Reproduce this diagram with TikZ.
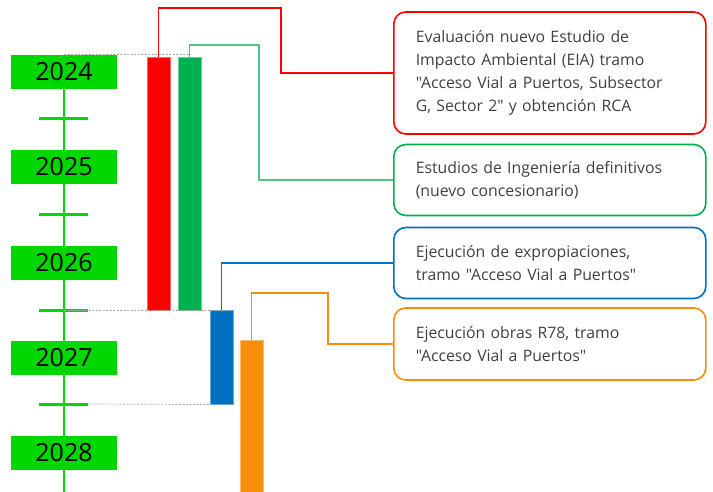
\documentclass[tikz,border=0pt]{standalone}
\usepackage{fontspec}
\setmainfont{Open Sans}[Ligatures=TeXOff]
\usepackage{xcolor}
\definecolor{YearGreen}{HTML}{00D600}
\definecolor{BarRed}{HTML}{FF0000}
\definecolor{BarGreen}{HTML}{00B050}
\definecolor{BarBlue}{HTML}{0070C0}
\definecolor{BarOrange}{HTML}{F68E0A}
\definecolor{TextGrey}{HTML}{404040}
\usetikzlibrary{positioning}

\tikzset{
  yearbox/.style={rectangle, fill=YearGreen, minimum width=106pt, minimum height=34pt, inner sep=0pt, font=\fontsize{25}{25}\selectfont},
  ganttbar/.style={rectangle, fill=#1, draw=#1!60, line width=0.6pt, inner sep=0pt, minimum width=23pt, anchor=north west},
  taskbox/.style={rectangle, rounded corners=12pt, draw=#1, line width=1.6pt, anchor=west, minimum width=312pt, text width=268pt, inner xsep=22pt, align=left, text=TextGrey, font=\fontsize{15.8}{23}\selectfont},
  link/.style={draw=#1, line width=1.2pt},
  guide/.style={draw=black!35, dashed, dash pattern=on 2pt off 1.5pt, line width=0.7pt}
}

\begin{document}
\begin{tikzpicture}[x=1pt, y=-1pt]
    \useasboundingbox (0,0) rectangle (713,492);

    % timeline
    \draw[YearGreen, line width=2.5pt] (64,72) -- (64,492);
    \foreach \yy in {119,215,310,404}
        \draw[YearGreen, line width=3pt] (39,\yy) -- (88,\yy);
    \coordinate (t3) at (64,310);
    \coordinate (t4) at (88,404);
    \node (y2024) [yearbox] at (64,72) {2024};
    \node (y2025) [yearbox] at (64,167) {2025};
    \node (y2026) [yearbox] at (64,263) {2026};
    \node (y2027) [yearbox] at (64,358) {2027};
    \node (y2028) [yearbox] at (64,453) {2028};

    % bars
    \node (rbar) [ganttbar=BarRed, minimum height=253pt] at (147,57) {};
    \node (gbar) [ganttbar=BarGreen, minimum height=253pt] at (178,57) {};
    \node (bbar) [ganttbar=BarBlue, minimum height=94pt] at (210,310) {};
    \node (obar) [ganttbar=BarOrange, minimum height=152pt] at (240,340) {};

    % guides
    \draw[guide] (y2024.north) -- (y2024.north -| gbar.north);
    \draw[guide] (t3) -- (bbar.north);
    \draw[guide] (t4) -- (bbar.south west);

    % tasks
    \node (eia) [taskbox=BarRed, minimum height=122pt] at (393,73) {Evaluación nuevo Estudio de\\ Impacto Ambiental (EIA) tramo\\ "Acceso Vial a Puertos, Subsector\\ G, Sector 2" y obtención RCA};
    \node (ing) [taskbox=BarGreen, minimum height=71pt] at (393,180) {Estudios de Ingeniería definitivos\\ (nuevo concesionario)};
    \node (exp) [taskbox=BarBlue, minimum height=71pt] at (393,263) {Ejecución de expropiaciones,\\ tramo "Acceso Vial a Puertos"};
    \node (obr) [taskbox=BarOrange, minimum height=72pt] at (393,344) {Ejecución obras R78, tramo\\ "Acceso Vial a Puertos"};

    % connectors
    \coordinate (rk) at (281,8);
    \coordinate (gk) at (259,45);
    \coordinate (ok) at (328,293);
    \draw[link=BarRed] (rbar.north) |- (rk) |- (eia.west);
    \draw[link=BarGreen!70] (gbar.north) |- (gk) |- (ing.west);
    \draw[link=BarBlue] (bbar.north) |- (exp.west);
    \draw[link=BarOrange] (obar.north) |- (ok) |- (obr.west);
\end{tikzpicture}
\end{document}
